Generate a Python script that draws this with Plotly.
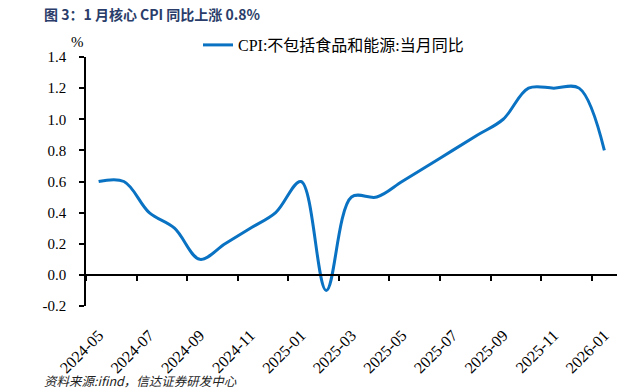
import plotly.graph_objects as go

months = ["2024-05", "2024-06", "2024-07", "2024-08", "2024-09", "2024-10", "2024-11",
          "2024-12", "2025-01", "2025-02", "2025-03", "2025-04", "2025-05", "2025-06",
          "2025-07", "2025-08", "2025-09", "2025-10", "2025-11", "2025-12", "2026-01"]
core_cpi = [0.6, 0.6, 0.4, 0.3, 0.1, 0.2, 0.3, 0.4, 0.6, -0.1, 0.5, 0.5, 0.6, 0.7,
            0.8, 0.9, 1.0, 1.2, 1.2, 1.2, 0.8]
series_name = "CPI:不包括食品和能源:当月同比"
y_ticks = [-0.2, 0.0, 0.2, 0.4, 0.6, 0.8, 1.0, 1.2, 1.4]
y_tick_text = ["-0.2", "0.0", "0.2", "0.4", "0.6", "0.8", "1.0", "1.2", "1.4"]

W, H = 636, 390
L, R, T, B = 86, 19, 57, 84
y_range = [-0.2, 1.4]
pw, ph = W - L - R, H - T - B

SERIF = "'Liberation Serif', 'Times New Roman', 'Noto Sans CJK SC', serif"
CJK = "'Noto Sans CJK SC', sans-serif"
BLUE = "#0A72C2"

fig = go.Figure()
fig.add_trace(go.Scatter(
    x=months, y=core_cpi, mode="lines", name=series_name,
    line=dict(color=BLUE, width=3, shape="spline", smoothing=1.0),
    xaxis="x", yaxis="y"))
# invisible copy to define the category axis that carries the ticks on y=0
fig.add_trace(go.Scatter(
    x=months, y=core_cpi, mode="lines", showlegend=False, hoverinfo="skip",
    line=dict(color="rgba(0,0,0,0)", width=0), xaxis="x2", yaxis="y"))

zero_pos = (0 - y_range[0]) / (y_range[1] - y_range[0])

fig.update_layout(
    width=W, height=H,
    margin=dict(l=L, r=R, t=T, b=B, autoexpand=False),
    paper_bgcolor="white", plot_bgcolor="white",
    showlegend=True,
    legend=dict(x=(198 - L) / pw, y=1 + (T - 45) / ph, xanchor="left", yanchor="middle",
                font=dict(family=SERIF, size=16, color="black"),
                bgcolor="rgba(0,0,0,0)", borderwidth=0),
    xaxis=dict(type="category", categoryorder="array", categoryarray=months,
               range=[-0.5, len(months) - 0.5], dtick=2, tickangle=-45,
               showline=False, showgrid=False, zeroline=False, ticks="",
               ticklabelstandoff=16, automargin=False,
               tickfont=dict(family=SERIF, size=16, color="black")),
    xaxis2=dict(type="category", categoryorder="array", categoryarray=months,
                overlaying="x", anchor="free", position=zero_pos,
                range=[-0.5, len(months) - 0.5], dtick=2, tickson="boundaries",
                ticks="outside", ticklen=5, tickwidth=1.5, tickcolor="black",
                showticklabels=False, showline=True, linecolor="black", linewidth=1.5,
                showgrid=False, zeroline=False, automargin=False),
    yaxis=dict(range=y_range, tickvals=y_ticks, ticktext=y_tick_text,
               showline=True, linecolor="black", linewidth=1.5,
               ticks="outside", ticklen=5, tickwidth=1.5, tickcolor="black",
               showgrid=False, zeroline=False, ticklabelstandoff=10, automargin=False,
               tickfont=dict(family=SERIF, size=15, color="black")),
    annotations=[
        dict(text="<b>图 3：1 月核心 CPI 同比上涨 0.8%</b>", xref="paper", yref="paper",
             x=(42 - L) / pw, y=1 + (T - 14) / ph, xanchor="left", yanchor="middle",
             showarrow=False, font=dict(family=CJK, size=14, color="#2A3D6A")),
        dict(text="%", xref="paper", yref="paper",
             x=(77 - L) / pw, y=1 + (T - 42) / ph, xanchor="center", yanchor="middle",
             showarrow=False, font=dict(family=SERIF, size=15, color="black")),
        dict(text="<i>资料来源:ifind，信达证券研发中心</i>", xref="paper", yref="paper",
             x=(42 - L) / pw, y=-(380 - (T + ph)) / ph, xanchor="left", yanchor="middle",
             showarrow=False, font=dict(family=CJK, size=12.5, color="#222222")),
    ],
)

fig.write_html("out.html", config={"displayModeBar": False},
               post_script="document.body.style.margin='0';document.body.style.padding='0';")
